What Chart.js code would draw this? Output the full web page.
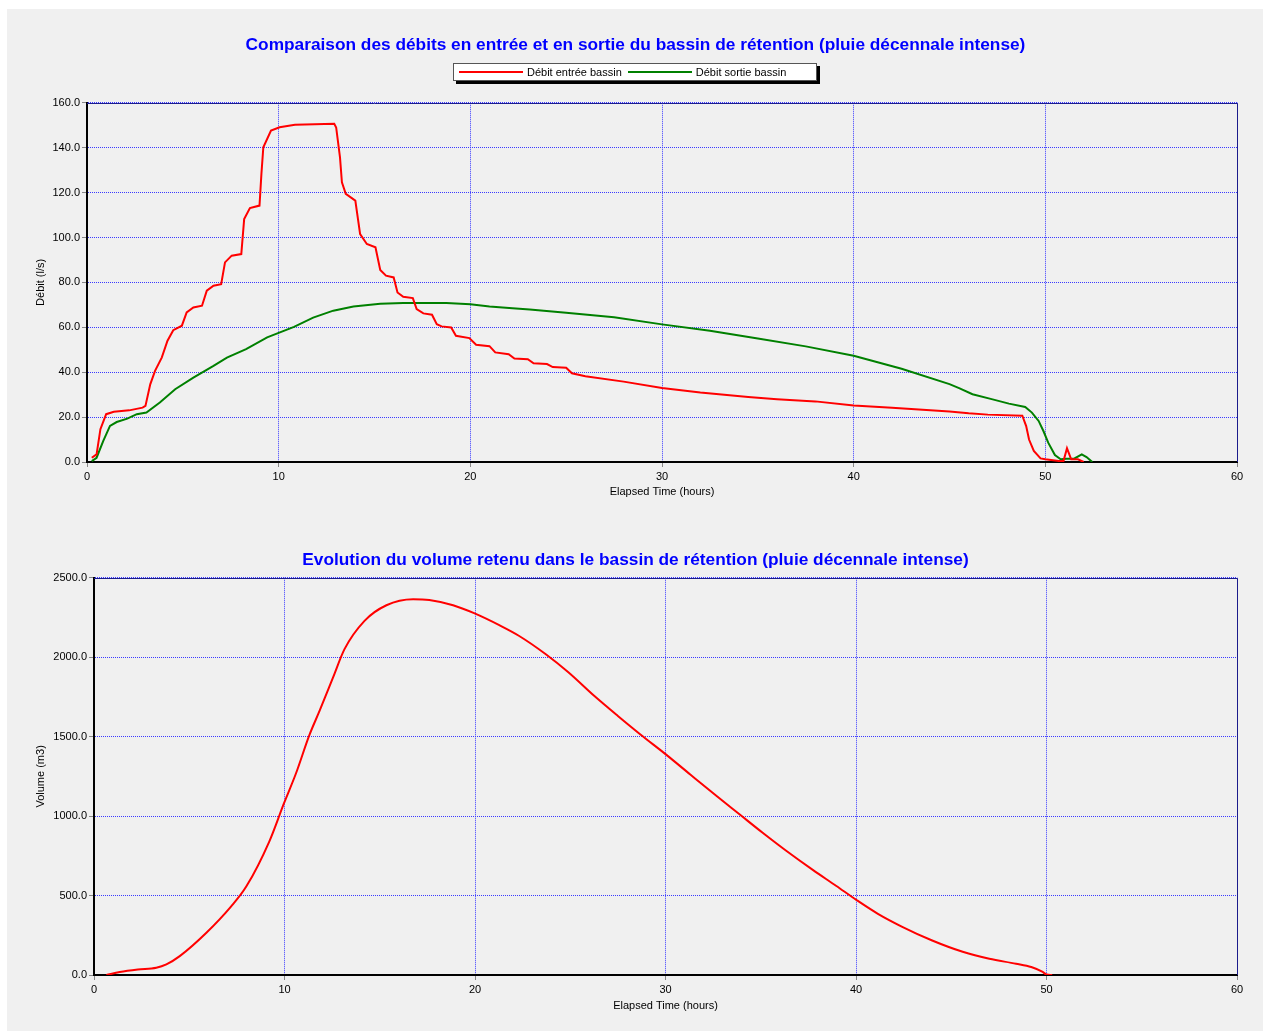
<!DOCTYPE html>
<html>
<head>
<meta charset="utf-8">
<script src="https://cdn.jsdelivr.net/npm/chart.js@4.4.0/dist/chart.umd.min.js"></script>
<style>
body { margin: 0; background: #fff; font-family: Arial, "Liberation Sans", sans-serif; }
#panel { position: absolute; left: 7px; top: 9px; width: 1256px; height: 1022px; background: #f0f0f0; }
canvas { position: absolute; left: 0; }
#c1 { top: 0; }
#c2 { top: 515px; }
#legend { position: absolute; left: 453px; top: 63px; width: 362px; height: 16px; background: #fff;
  border: 1px solid #555; box-shadow: 3px 3px 0 #000; display: flex; align-items: center; font-size: 11px; color: #000; }
#legend .line { display: inline-block; width: 64px; height: 2px; margin: 0 4px 0 5px; }
</style>
</head>
<body>
<div id="panel"></div>
<canvas id="c1" width="1263" height="515"></canvas>
<canvas id="c2" width="1263" height="516"></canvas>
<div id="legend"></div>
<script>
// débit entrée bassin (l/s)
const tIn = [0.25, 0.5, 0.7, 1.0, 1.4, 2.2, 2.9, 3.05, 3.3, 3.55, 3.9, 4.2, 4.5, 4.95, 5.2, 5.55, 6.0, 6.25, 6.6, 7.0,
  7.2, 7.55, 8.05, 8.2, 8.5, 9.0, 9.1, 9.2, 9.6, 10.05, 10.85, 12.9, 13.0, 13.2, 13.3, 13.5, 14.0, 14.25, 14.6, 15.05,
  15.3, 15.6, 16.0, 16.2, 16.5, 17.0, 17.2, 17.55, 18.0, 18.25, 18.5, 19.0, 19.25, 19.95, 20.3, 21.0, 21.3, 22.0, 22.3, 23.0,
  23.3, 24.0, 24.3, 25.0, 25.3, 26.0, 28.0, 30.0, 32.0, 34.5, 36.0, 38.0, 40.0, 42.0, 45.0, 46.0, 47.0, 48.8, 49.0, 49.15,
  49.4, 49.75, 50.0, 50.7, 50.95, 51.13, 51.35, 51.7, 52.0];
const qIn = [1.9, 3.4, 14.6, 21.3, 22.4, 23.0, 24.2, 25.0, 34.6, 40.6, 46.5, 54.0, 58.7, 60.7, 66.6, 68.8, 69.6, 76.3, 78.5, 79.2,
  88.9, 91.9, 92.6, 108.2, 113.1, 114.2, 128.3, 140.2, 147.6, 149.1, 150.2, 150.6, 149.0, 135.7, 124.6, 119.4, 116.4, 101.5, 97.1, 95.6,
  85.5, 83.0, 82.2, 75.5, 73.6, 73.0, 68.1, 66.2, 65.6, 61.4, 60.4, 59.9, 56.2, 55.2, 52.2, 51.6, 48.8, 48.0, 46.1, 45.8,
  44.0, 43.6, 42.3, 42.0, 39.5, 38.2, 35.8, 33.0, 31.0, 29.0, 28.0, 27.0, 25.2, 24.2, 22.5, 21.7, 21.1, 20.6, 16.0, 10.0,
  4.9, 1.6, 1.2, 0.5, 0.5, 6.1, 1.2, 1.2, 0];

// débit sortie bassin (l/s)
const tOut = [0.25, 0.5, 0.85, 1.2, 1.55, 2.1, 2.6, 3.1, 3.8, 4.6, 5.55, 6.6, 7.3, 8.3, 9.4, 10.0, 10.8, 11.8, 12.85, 13.9,
  15.3, 16.5, 18.75, 20.0, 21.0, 22.2, 23.1, 25.0, 27.5, 30.0, 32.5, 35.0, 37.5, 40.0, 42.5, 45.0, 45.5, 46.2, 47.2, 48.1,
  48.95, 49.3, 49.65, 49.9, 50.15, 50.5, 50.8, 51.1, 51.5, 51.9, 52.15, 52.45];
const qOut = [0.4, 1.9, 9.4, 16.1, 17.8, 19.3, 21.3, 22.0, 26.5, 32.4, 37.6, 42.8, 46.5, 50.3, 55.5, 57.5, 60.2, 64.3, 67.4, 69.3,
  70.5, 70.8, 70.8, 70.3, 69.3, 68.5, 67.9, 66.5, 64.5, 61.3, 58.5, 55.0, 51.5, 47.3, 41.5, 34.7, 32.9, 30.2, 28.0, 26.0,
  24.5, 22.0, 18.3, 13.8, 8.6, 3.1, 1.2, 1.5, 1.5, 3.4, 2.2, 0];

// volume retenu (m3)
const tVol = [0.65, 1.35, 2.3, 3.27, 3.8, 4.5, 5.9, 7.2, 8.0, 9.2, 9.97, 10.6, 11.3, 11.85, 12.55, 13.15, 14.2, 15.35, 16.75, 17.6,
  18.85, 19.95, 21.3, 22.3, 23.7, 24.9, 26.3, 27.5, 28.7, 30.0, 31.3, 32.7, 33.9, 35.1, 36.3, 37.75, 38.95, 40.05, 41.15, 42.4,
  44.0, 45.6, 47.0, 48.4, 49.2, 49.8, 50.0, 50.3];
const vol = [0, 19, 35, 46, 67, 119, 266, 432, 558, 840, 1080, 1268, 1508, 1665, 1873, 2051, 2229, 2327, 2365, 2360,
  2327, 2277, 2200, 2135, 2020, 1905, 1752, 1630, 1512, 1390, 1262, 1125, 1010, 895, 785, 660, 562, 470, 385, 305,
  217, 146, 102, 71, 50, 19, 3, 0];

const seriesLabels = ['Débit entrée bassin', 'Débit sortie bassin'];
const seriesColors = ['#ff0000', '#008000'];

function pts(xs, ys) {
    return xs.map((x, i) => ({ x: x, y: ys[i] }));
}

const tickFont = { family: 'Arial, "Liberation Sans", sans-serif', size: 11 };
const titleFont = { family: 'Arial, "Liberation Sans", sans-serif', size: 17.3, weight: 'bold' };

// dark frame on the top and right edges of the plot
const frame = {
    id: 'frame',
    afterDatasetsDraw(chart) {
        const a = chart.chartArea, ctx = chart.ctx;
        ctx.save();
        ctx.strokeStyle = '#1c1c8c';
        ctx.lineWidth = 1;
        ctx.beginPath();
        ctx.moveTo(a.left, Math.round(a.top) + 0.5);
        ctx.lineTo(Math.round(a.right) + 0.5, Math.round(a.top) + 0.5);
        ctx.lineTo(Math.round(a.right) + 0.5, a.bottom);
        ctx.stroke();
        ctx.restore();
    }
};

function gridOpts() {
    return { color: '#3a3aff', lineWidth: 1, tickLength: 5, tickColor: '#888', tickBorderDash: [], tickWidth: 1 };
}

function makeOptions(title, titlePad, yTitle, yMax, yStep, yWidth, xHeight, xTitlePad) {
    return {
        responsive: false,
        devicePixelRatio: 1,
        animation: false,
        layout: { padding: { left: 34, right: 26, top: 0, bottom: 0 } },
        plugins: {
            legend: { display: false },
            tooltip: { enabled: false },
            title: { display: true, text: title, color: '#0000ff', font: titleFont, padding: titlePad }
        },
        scales: {
            x: {
                type: 'linear', min: 0, max: 60,
                ticks: { stepSize: 10, color: '#000', font: tickFont, padding: 3, maxRotation: 0 },
                grid: gridOpts(),
                border: { color: '#000', width: 2, dash: [1, 1] },
                title: { display: true, text: 'Elapsed Time (hours)', color: '#000', font: tickFont, padding: { top: 0, bottom: xTitlePad } },
                afterFit: s => { s.height = xHeight; }
            },
            y: {
                min: 0, max: yMax,
                ticks: { stepSize: yStep, color: '#000', font: tickFont, padding: 2, callback: v => v.toFixed(1) },
                grid: gridOpts(),
                border: { color: '#000', width: 2, dash: [1, 1] },
                title: { display: true, text: yTitle, color: '#000', font: tickFont, padding: { top: 0, bottom: 0 } },
                afterFit: s => { s.width = yWidth; }
            }
        }
    };
}

new Chart(document.getElementById('c1').getContext('2d'), {
    type: 'line',
    data: {
        datasets: [
            { label: seriesLabels[0], data: pts(tIn, qIn), borderColor: seriesColors[0], borderWidth: 2, pointRadius: 0, tension: 0 },
            { label: seriesLabels[1], data: pts(tOut, qOut), borderColor: seriesColors[1], borderWidth: 2, pointRadius: 0, tension: 0 }
        ]
    },
    options: makeOptions('Comparaison des débits en entrée et en sortie du bassin de rétention (pluie décennale intense)',
        { top: 35, bottom: 47 }, 'Débit (l/s)', 160, 20, 53, 53, 16),
    plugins: [frame]
});

new Chart(document.getElementById('c2').getContext('2d'), {
    type: 'line',
    data: {
        datasets: [
            { label: 'Volume', data: pts(tVol, vol), borderColor: '#ff0000', borderWidth: 2, pointRadius: 0, cubicInterpolationMode: 'monotone' }
        ]
    },
    options: makeOptions('Evolution du volume retenu dans le bassin de rétention (pluie décennale intense)',
        { top: 35, bottom: 7 }, 'Volume (m3)', 2500, 500, 60, 56, 18),
    plugins: [frame]
});

// legend box
const legend = document.getElementById('legend');
seriesLabels.forEach((lab, i) => {
    const line = document.createElement('span');
    line.className = 'line';
    line.style.background = seriesColors[i];
    if (i > 0) line.style.marginLeft = '6px';
    legend.appendChild(line);
    const txt = document.createElement('span');
    txt.textContent = lab;
    legend.appendChild(txt);
});
</script>
</body>
</html>
